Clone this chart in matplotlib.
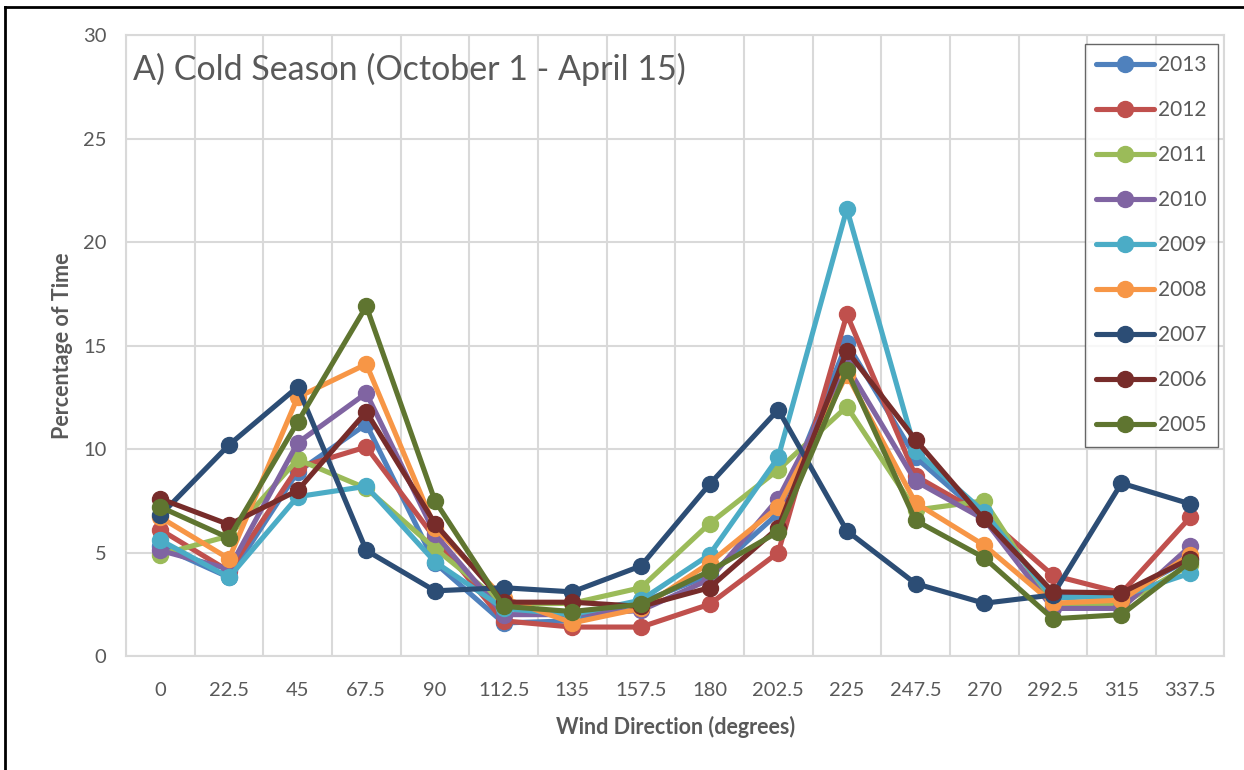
import matplotlib.pyplot as plt
from matplotlib.lines import Line2D
import numpy as np

plt.rcParams['font.family'] = ['Lato', 'DejaVu Sans']

# wind direction categories
directions = ['0', '22.5', '45', '67.5', '90', '112.5', '135', '157.5',
              '180', '202.5', '225', '247.5', '270', '292.5', '315', '337.5']

# percentage of time per year
y2013 = [5.3, 3.8, 8.9, 11.2, 4.5, 1.6, 1.7, 2.6, 3.9, 6.9, 15.1, 9.6, 6.7, 3.0, 2.9, 4.7]
y2012 = [6.1, 4.1, 9.1, 10.1, 5.7, 1.7, 1.4, 1.4, 2.5, 5.0, 16.5, 8.7, 6.8, 3.9, 3.05, 6.7]
y2011 = [4.9, 5.8, 9.5, 8.1, 5.2, 2.5, 2.55, 3.3, 6.4, 9.0, 12.05, 7.05, 7.5, 2.4, 2.5, 4.4]
y2010 = [5.1, 4.2, 10.3, 12.7, 5.9, 2.0, 2.0, 2.2, 3.7, 7.6, 14.0, 8.45, 6.6, 2.3, 2.3, 5.3]
y2009 = [5.6, 3.8, 7.7, 8.2, 4.55, 2.3, 2.0, 2.7, 4.9, 9.6, 21.6, 9.9, 6.95, 2.8, 2.9, 4.0]
y2008 = [6.7, 4.7, 12.5, 14.1, 6.2, 2.8, 1.6, 2.3, 4.5, 7.2, 13.6, 7.4, 5.35, 2.55, 2.7, 4.9]
y2007 = [6.8, 10.2, 13.0, 5.1, 3.15, 3.3, 3.1, 4.35, 8.3, 11.9, 6.05, 3.5, 2.55, 2.95, 8.35, 7.35]
y2006 = [7.6, 6.35, 8.0, 11.8, 6.4, 2.6, 2.6, 2.4, 3.3, 6.2, 14.75, 10.45, 6.6, 3.1, 3.05, 4.7]
y2005 = [7.2, 5.7, 11.3, 16.9, 7.5, 2.4, 2.15, 2.5, 4.1, 6.0, 13.8, 6.55, 4.75, 1.8, 2.0, 4.55]

years = ['2013', '2012', '2011', '2010', '2009', '2008', '2007', '2006', '2005']
series = [y2013, y2012, y2011, y2010, y2009, y2008, y2007, y2006, y2005]
colors = ['#4F81BD', '#C0504D', '#9BBB59', '#8064A2', '#4BACC6',
          '#F79646', '#2C4D75', '#772C2A', '#5F7530']

text_color = '#595959'

fig = plt.figure(figsize=(12.44, 7.70), dpi=100)
ax = fig.add_axes([0.1013, 0.148, 0.883, 0.8065])

x = np.arange(len(directions))
for name, vals, c in zip(years, series, colors):
    ax.plot(x, vals, color=c, lw=3.7, marker='o', markersize=11.5,
            label=name, solid_capstyle='round', solid_joinstyle='round')

ax.set_xlim(-0.5, len(directions) - 0.5)
ax.set_ylim(0, 30)
ax.set_yticks([0, 5, 10, 15, 20, 25, 30])
ax.set_xticks(x)
ax.set_xticklabels(directions)
ax.set_xticks(np.arange(-0.5, len(directions)), minor=True)
ax.tick_params(axis='both', which='both', length=0, labelsize=14.5,
               labelcolor=text_color)
ax.tick_params(axis='x', pad=19)
ax.tick_params(axis='y', pad=14)

# gridlines at category boundaries and every 5 %
ax.grid(False)
ax.grid(which='minor', axis='x', color='#d9d9d9', lw=1.5)
ax.grid(which='major', axis='y', color='#d9d9d9', lw=1.5)
for s in ax.spines.values():
    s.set_color('#d9d9d9')
    s.set_linewidth(1.5)

ax.set_xlabel('Wind Direction (degrees)', fontsize=15.5, fontweight='bold',
              color=text_color, labelpad=12)
ax.set_ylabel('Percentage of Time', fontsize=15.5, fontweight='bold',
              color=text_color, labelpad=7)

ax.text(0.006, 0.944, 'A) Cold Season (October 1 - April 15)',
        transform=ax.transAxes, fontsize=24.5, color=text_color,
        ha='left', va='center')

leg = ax.legend(loc='upper right', bbox_to_anchor=(0.9945, 0.9855),
                fontsize=15, frameon=True, fancybox=False, labelspacing=1.2,
                handlelength=2.8, handletextpad=0.2, borderpad=0.55,
                borderaxespad=0, labelcolor=text_color)
leg.get_frame().set_edgecolor('#404040')
leg.get_frame().set_linewidth(1.0)

# outer border on the left and top
fig.add_artist(Line2D([0.004, 0.004], [0, 0.991], color='black', lw=2,
                      transform=fig.transFigure))
fig.add_artist(Line2D([0.004, 1.0], [0.991, 0.991], color='black', lw=2,
                      transform=fig.transFigure))

fig.savefig('out.png', dpi=100, facecolor='white')
